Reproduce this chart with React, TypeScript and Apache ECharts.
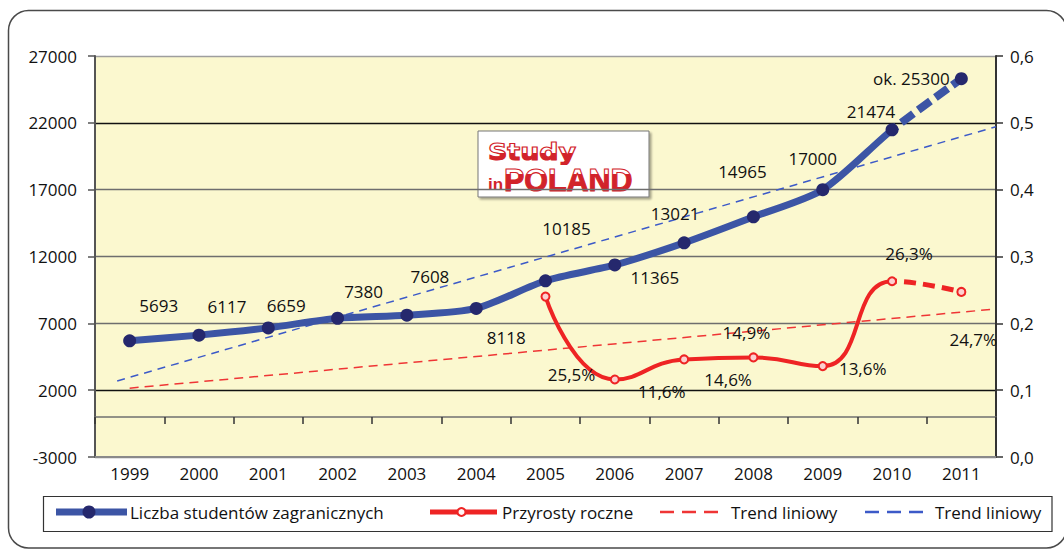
import React, { useEffect, useRef } from 'react';
import * as echarts from 'echarts';

// ---------- data ----------
const categories = ['1999', '2000', '2001', '2002', '2003', '2004', '2005', '2006', '2007', '2008', '2009', '2010', '2011'];
const studentCounts = [5693, 6117, 6659, 7380, 7608, 8118, 10185, 11365, 13021, 14965, 17000, 21474, 25300];
const studentLabels = ['5693', '6117', '6659', '7380', '7608', '8118', '10185', '11365', '13021', '14965', '17000', '21474', 'ok. 25300'];
const growthRates: (number | null)[] = [null, null, null, null, null, null, 0.24, 0.116, 0.146, 0.149, 0.136, 0.263, 0.247];
const growthLabels = ['', '', '', '', '', '', '25,5%', '11,6%', '14,6%', '14,9%', '13,6%', '26,3%', '24,7%'];
// linear trend end points: [category position, value]
const studentTrend = [[-0.18, 2690], [12.5, 21710]];
const growthTrend = [[0, 0.103], [12.5, 0.2215]];
const leftAxis = { min: -3000, max: 27000, step: 5000 };
const rightAxis = { min: 0, max: 0.6, step: 0.1 };
const legendNames = ['Liczba studentów zagranicznych', 'Przyrosty roczne', 'Trend liniowy', 'Trend liniowy'];
const estimateFrom = 11; // 2010 -> 2011 drawn dashed

// ---------- styles ----------
const FONT = '"Open Sans", "Noto Sans", sans-serif';
const BLUE = '#3c55a5';
const NAVY = '#25286d';
const RED = '#ee2424';
const TREND_BLUE = '#3c5ac8';
const TREND_RED = '#ef3535';
const LOGO_RED = '#d2232a';
const blueLabelOffsets = [[29, -35], [28, -29], [18, -22], [26, -27], [23, -39], [30, 29], [21, -52], [40, 13], [-9, -29], [-11, -45], [-10, -31], [-21, -18], [-50, 0]];
const redLabelOffsets = [[0, 0], [0, 0], [0, 0], [0, 0], [0, 0], [0, 0], [26, 78], [47, 12], [44, 20], [-7, -25], [40, 2], [17, -28], [12, 48]];

function splitPieces(color: string, transparent: string, solidPart: boolean) {
  return solidPart
    ? [{ gte: -1, lte: estimateFrom, color }, { gt: estimateFrom, lte: 13, color: transparent }]
    : [{ gte: -1, lt: estimateFrom, color: transparent }, { gte: estimateFrom, lte: 13, color }];
}

function txtStyle() {
  return { fontFamily: FONT, fontSize: 17, fill: '#111' };
}

// flag-style logo word: red fill, white top band, red outline
function flagWord(text: string, x: number, y: number, font: string, size: number, sx: number, band: number[]) {
  const base = { text, fontFamily: font, fontWeight: 'bold', fontSize: size, verticalAlign: 'top' };
  return [
    { type: 'text', x, y, scaleX: sx, style: { ...base, fill: LOGO_RED } },
    { type: 'rect', shape: { x: band[0], y: band[1], width: band[2], height: band[3] }, style: { fill: '#ffffff' } },
    { type: 'text', x, y, scaleX: sx, style: { ...base, fill: 'none', stroke: LOGO_RED, lineWidth: 1.1 } },
  ];
}

function buildOption() {
  const txt = { fontFamily: FONT, fontSize: 17, color: '#111' };
  const legendY = 512;
  return {
    animation: false,
    textStyle: { fontFamily: FONT },
    grid: {
      left: 95, right: 68, top: 56, bottom: 92,
      show: true, backgroundColor: '#fbf8cf', borderWidth: 0,
      containLabel: false, outerBoundsMode: 'none',
    },
    xAxis: [
      {
        type: 'category', data: categories, position: 'bottom', boundaryGap: true,
        axisLine: { show: true, onZero: false, lineStyle: { color: '#8a8a8a', width: 2 } },
        axisTick: { show: false },
        axisLabel: { ...txt, margin: 8 },
        splitLine: { show: false },
      },
      {
        type: 'category', data: categories, position: 'bottom', boundaryGap: true,
        axisLine: { show: true, onZero: true, onZeroAxisIndex: 0, lineStyle: { color: '#707070', width: 1.5 } },
        axisTick: { show: true, inside: false, length: 7, lineStyle: { color: '#333', width: 1.5 } },
        axisLabel: { show: false },
        splitLine: { show: false },
      },
      { type: 'value', min: -0.5, max: 12.5, show: false, axisLine: { onZero: false } },
    ],
    yAxis: [
      {
        type: 'value', position: 'left', min: leftAxis.min, max: leftAxis.max, interval: leftAxis.step,
        axisLine: { show: true, onZero: false, lineStyle: { color: '#555', width: 2 } },
        axisTick: { show: true, length: 7, lineStyle: { color: '#555', width: 1.5 } },
        axisLabel: { ...txt, margin: 18, formatter: (v: number) => String(v) },
        splitLine: {
          show: true,
          lineStyle: { color: ['#8c8c8c', '#111', '#6e6e6e', '#6e6e6e', '#6e6e6e', '#111', '#9e9e9e'], width: 1.3 },
        },
      },
      {
        type: 'value', position: 'right', min: rightAxis.min, max: rightAxis.max, interval: rightAxis.step,
        axisLine: { show: true, onZero: false, lineStyle: { color: '#333', width: 2 } },
        axisTick: { show: true, length: 7, lineStyle: { color: '#333', width: 1.5 } },
        axisLabel: { ...txt, margin: 14, formatter: (v: number) => v.toFixed(1).replace('.', ',') },
        splitLine: { show: false },
      },
    ],
    visualMap: [
      { type: 'piecewise', show: false, seriesIndex: 0, dimension: 0, pieces: splitPieces(BLUE, 'rgba(60,85,165,0)', true) },
      { type: 'piecewise', show: false, seriesIndex: 1, dimension: 0, pieces: splitPieces(BLUE, 'rgba(60,85,165,0)', false) },
      { type: 'piecewise', show: false, seriesIndex: 2, dimension: 0, pieces: splitPieces(RED, 'rgba(238,36,36,0)', true) },
      { type: 'piecewise', show: false, seriesIndex: 3, dimension: 0, pieces: splitPieces(RED, 'rgba(238,36,36,0)', false) },
    ],
    series: [
      {
        type: 'line', name: legendNames[0], xAxisIndex: 0, yAxisIndex: 0, data: studentCounts,
        smooth: 0.25, showSymbol: false, symbol: 'none', z: 3,
        lineStyle: { width: 7, cap: 'round', join: 'round' },
      },
      {
        type: 'line', name: legendNames[0] + ' (szac.)', xAxisIndex: 0, yAxisIndex: 0, data: studentCounts,
        smooth: 0.25, showSymbol: false, symbol: 'none', z: 3,
        lineStyle: { width: 8, type: [15, 6], cap: 'butt' },
      },
      {
        type: 'line', name: legendNames[1], xAxisIndex: 0, yAxisIndex: 1, data: growthRates.map((v) => (v == null ? '-' : v)),
        smooth: 0.5, showSymbol: false, symbol: 'none', z: 4,
        lineStyle: { width: 4, cap: 'round', join: 'round' },
      },
      {
        type: 'line', name: legendNames[1] + ' (szac.)', xAxisIndex: 0, yAxisIndex: 1, data: growthRates.map((v) => (v == null ? '-' : v)),
        smooth: 0.5, showSymbol: false, symbol: 'none', z: 4,
        lineStyle: { width: 5, type: [12, 7], cap: 'butt' },
      },
      {
        type: 'scatter', name: 'studentsPoints', xAxisIndex: 0, yAxisIndex: 0, z: 6,
        symbol: 'circle', symbolSize: 13, itemStyle: { color: NAVY, opacity: 1 },
        label: { show: true, position: 'inside', ...txt },
        data: studentCounts.map((v, i) => ({
          value: [categories[i], v],
          label: { formatter: studentLabels[i], offset: blueLabelOffsets[i] },
        })),
      },
      {
        type: 'scatter', name: 'growthPoints', xAxisIndex: 0, yAxisIndex: 1, z: 7,
        symbol: 'circle', symbolSize: 8, itemStyle: { color: '#fcd0d0', borderColor: RED, borderWidth: 2, opacity: 1 },
        label: { show: true, position: 'inside', ...txt },
        data: growthRates
          .map((v, i) => (v == null ? null : {
            value: [categories[i], v],
            label: { formatter: growthLabels[i], offset: redLabelOffsets[i] },
          }))
          .filter((d) => d != null),
      },
      {
        type: 'line', name: legendNames[3], xAxisIndex: 2, yAxisIndex: 0, data: studentTrend,
        showSymbol: false, symbol: 'none', z: 2,
        lineStyle: { color: TREND_BLUE, width: 1.5, type: [8, 6] },
      },
      {
        type: 'line', name: legendNames[2], xAxisIndex: 2, yAxisIndex: 1, data: growthTrend,
        showSymbol: false, symbol: 'none', z: 2,
        lineStyle: { color: TREND_RED, width: 1.5, type: [9, 6] },
      },
    ],
    graphic: [
      // outer frame
      {
        type: 'rect', z: -10, silent: true,
        shape: { x: 8.5, y: 10.5, width: 1058, height: 537.5, r: 20 },
        style: { fill: 'none', stroke: '#4a4a4a', lineWidth: 1.5 },
      },
      // logo
      {
        type: 'group', z: 50,
        children: [
          {
            type: 'rect', shape: { x: 478, y: 131, width: 171, height: 66 },
            style: { fill: '#ffffff', stroke: '#777', lineWidth: 1, shadowColor: 'rgba(0,0,0,0.35)', shadowOffsetX: 2, shadowOffsetY: 2, shadowBlur: 2 },
          },
          ...flagWord('Study', 488, 140.5, '"DejaVu Sans", sans-serif', 23, 1.17, [486, 140, 96, 13]),
          {
            type: 'text', x: 488, y: 175.5,
            style: { text: 'in', fontFamily: '"Liberation Sans", Arial, sans-serif', fontWeight: 'bold', fontSize: 17, fill: LOGO_RED, verticalAlign: 'top' },
          },
          ...flagWord('POLAND', 504, 164, '"Liberation Sans", Arial, sans-serif', 32, 0.95, [503, 165, 134, 9]),
        ],
      },
      // legend
      {
        type: 'group', z: 50,
        children: [
          {
            type: 'rect', shape: { x: 43.5, y: 496.5, width: 1008.5, height: 35 },
            style: { fill: '#ffffff', stroke: '#333', lineWidth: 1.2 },
          },
          { type: 'line', shape: { x1: 56, y1: legendY, x2: 127, y2: legendY }, style: { stroke: BLUE, lineWidth: 7 } },
          { type: 'circle', shape: { cx: 89, cy: legendY, r: 6.5 }, style: { fill: NAVY } },
          { type: 'text', x: 130, y: legendY, style: { text: legendNames[0], ...txtStyle(), verticalAlign: 'middle' } },
          { type: 'line', shape: { x1: 430, y1: legendY, x2: 497, y2: legendY }, style: { stroke: RED, lineWidth: 5 } },
          { type: 'circle', shape: { cx: 461.5, cy: legendY, r: 4 }, style: { fill: '#fff4f4', stroke: RED, lineWidth: 2 } },
          { type: 'text', x: 502, y: legendY, style: { text: legendNames[1], ...txtStyle(), verticalAlign: 'middle' } },
          { type: 'line', shape: { x1: 660, y1: legendY, x2: 723, y2: legendY }, style: { stroke: TREND_RED, lineWidth: 2.5, lineDash: [14, 8] } },
          { type: 'text', x: 731, y: legendY, style: { text: legendNames[2], ...txtStyle(), verticalAlign: 'middle' } },
          { type: 'line', shape: { x1: 865, y1: legendY, x2: 928, y2: legendY }, style: { stroke: TREND_BLUE, lineWidth: 2.5, lineDash: [14, 8] } },
          { type: 'text', x: 935, y: legendY, style: { text: legendNames[3], ...txtStyle(), verticalAlign: 'middle' } },
        ],
      },
    ],
  };
}

export default function App() {
  const ref = useRef<HTMLDivElement>(null);
  useEffect(() => {
    if (!ref.current) return;
    const chart = echarts.init(ref.current, null, { renderer: 'svg' });
    chart.setOption(buildOption() as any);
    return () => chart.dispose();
  }, []);
  return (
    <div
      ref={ref}
      style={{ position: 'absolute', left: 0, top: 0, width: 1064, height: 549, background: '#ffffff' }}
    />
  );
}
